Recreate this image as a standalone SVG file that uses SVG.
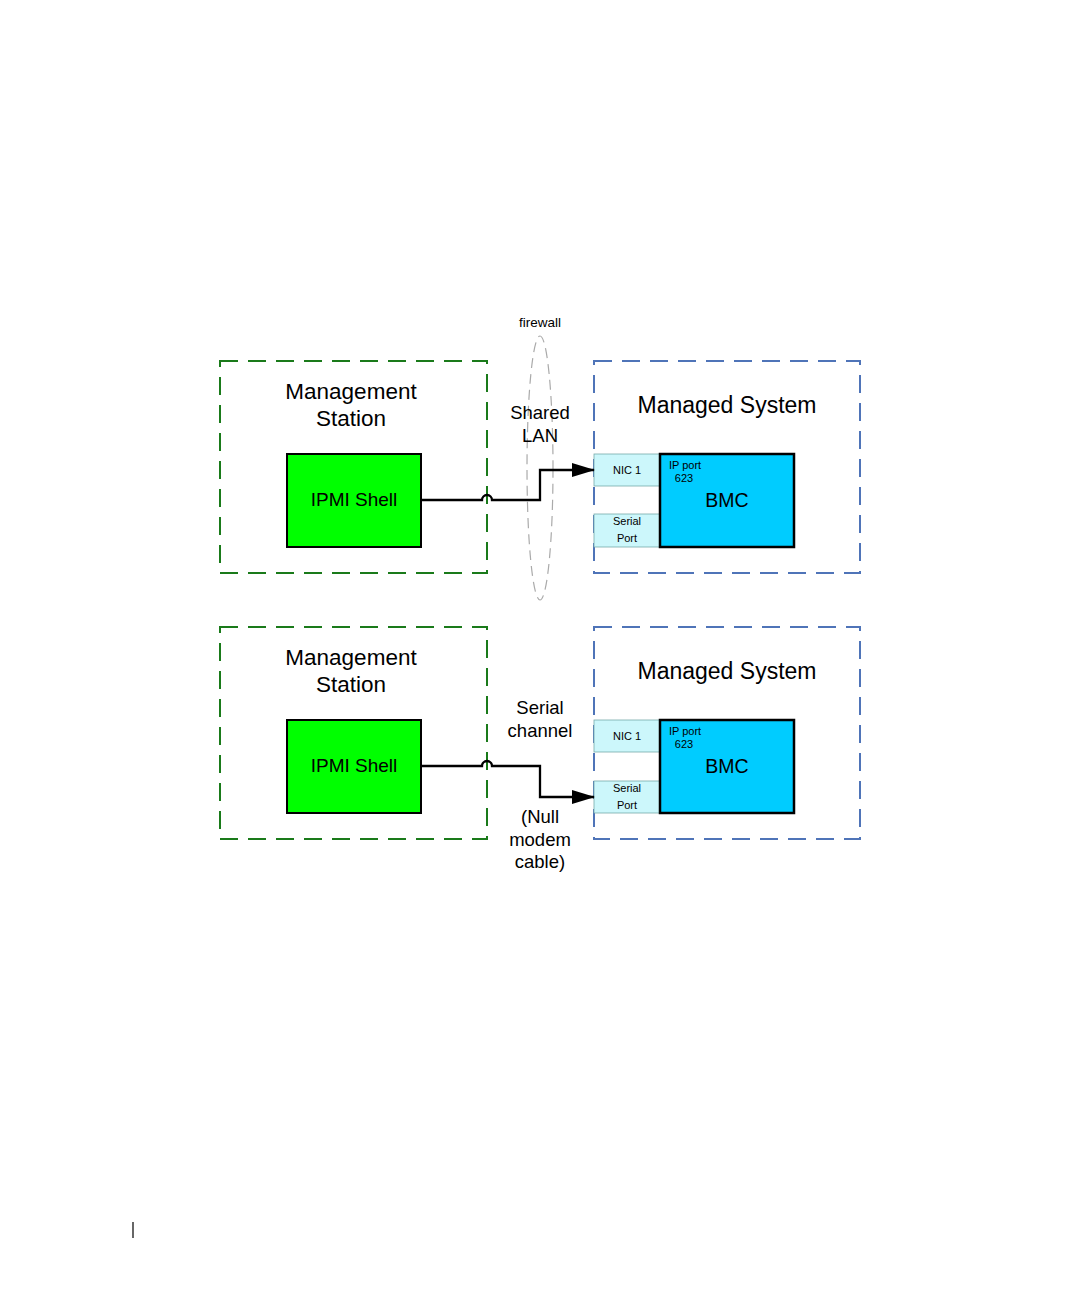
<svg xmlns="http://www.w3.org/2000/svg" width="1081" height="1297" viewBox="0 0 1081 1297">
<style>
text{font-family:"Liberation Sans",Arial,sans-serif;fill:#000;text-anchor:middle}
.ms{fill:none;stroke:#1a7a1a;stroke-width:2;stroke-dasharray:18,10}
.sys{fill:none;stroke:#4f74b8;stroke-width:2;stroke-dasharray:18,10}
.shell{fill:#00ff00;stroke:#000;stroke-width:2}
.bmc{fill:#00ccff;stroke:#000;stroke-width:2.5}
.port{fill:#ccf7fb;stroke:#7aa;stroke-width:0.8}
.t21{font-size:22.5px}
.t18{font-size:18.5px}
.t11{font-size:11px}
.conn{fill:none;stroke:#000;stroke-width:2.3}
</style>
<defs>
<marker id="arr" markerWidth="24" markerHeight="16" refX="22" refY="8" orient="auto" markerUnits="userSpaceOnUse">
<path d="M0,1 L23,8 L0,15 Z" fill="#000"/>
</marker>
</defs>
<rect width="1081" height="1297" fill="#fff"/>
<line x1="133" y1="1222" x2="133" y2="1238" stroke="#000" stroke-width="1.2"/>

<g id="firewall">
<ellipse cx="540" cy="468" rx="13" ry="132" fill="none" stroke="#aaa" stroke-width="1.2" stroke-dasharray="10,6"/>
<text x="540" y="327" style="font-size:13.5px">firewall</text>
</g>

<g id="mgmt1">
<rect class="ms" x="220" y="361" width="267" height="212"/>
<text class="t21" x="351" y="399">Management</text>
<text class="t21" x="351" y="426">Station</text>
</g>
<g id="shell1">
<rect class="shell" x="287" y="454" width="134" height="93"/>
<text x="354" y="506" style="font-size:19px">IPMI Shell</text>
</g>
<g id="sys1">
<rect class="sys" x="594" y="361" width="266" height="212"/>
<text x="727" y="413" style="font-size:23px">Managed System</text>
</g>
<g id="nic1a">
<rect class="port" x="594" y="454" width="66" height="32"/>
<text class="t11" x="627" y="474">NIC 1</text>
</g>
<g id="serial1">
<rect class="port" x="594" y="514" width="66" height="33"/>
<text class="t11" x="627" y="525">Serial</text>
<text class="t11" x="627" y="542">Port</text>
</g>
<g id="bmc1">
<rect class="bmc" x="660" y="454" width="134" height="93"/>
<text class="t11" x="685" y="469">IP port</text>
<text class="t11" x="684" y="482">623</text>
<text x="727" y="507" style="font-size:19.5px">BMC</text>
</g>
<text class="t18" x="540" y="419">Shared</text>
<text class="t18" x="540" y="442">LAN</text>

<g id="mgmt2">
<rect class="ms" x="220" y="627" width="267" height="212"/>
<text class="t21" x="351" y="665">Management</text>
<text class="t21" x="351" y="692">Station</text>
</g>
<g id="shell2">
<rect class="shell" x="287" y="720" width="134" height="93"/>
<text x="354" y="772" style="font-size:19px">IPMI Shell</text>
</g>
<g id="sys2">
<rect class="sys" x="594" y="627" width="266" height="212"/>
<text x="727" y="679" style="font-size:23px">Managed System</text>
</g>
<g id="nic1b">
<rect class="port" x="594" y="720" width="66" height="32"/>
<text class="t11" x="627" y="740">NIC 1</text>
</g>
<g id="serial2">
<rect class="port" x="594" y="781" width="66" height="32"/>
<text class="t11" x="627" y="792">Serial</text>
<text class="t11" x="627" y="809">Port</text>
</g>
<g id="bmc2">
<rect class="bmc" x="660" y="720" width="134" height="93"/>
<text class="t11" x="685" y="735">IP port</text>
<text class="t11" x="684" y="748">623</text>
<text x="727" y="773" style="font-size:19.5px">BMC</text>
</g>
<text class="t18" x="540" y="714">Serial</text>
<text class="t18" x="540" y="737">channel</text>
<text class="t18" x="540" y="823">(Null</text>
<text class="t18" x="540" y="846">modem</text>
<text class="t18" x="540" y="868">cable)</text>

<g id="connectors">
<path class="conn" d="M421,500 H482 A5,5 0 0 1 492,500 H540 V470 H594" marker-end="url(#arr)"/>
<path class="conn" d="M421,766 H482 A5,5 0 0 1 492,766 H540 V797 H594" marker-end="url(#arr)"/>
</g>
</svg>
